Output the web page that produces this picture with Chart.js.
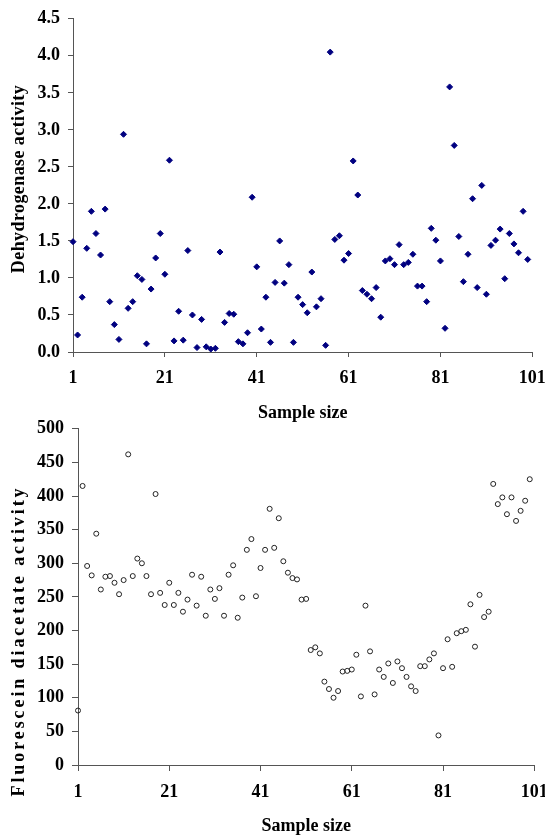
<!DOCTYPE html>
<html>
<head>
<meta charset="utf-8">
<style>
  html, body { margin: 0; padding: 0; background: #fff; width: 545px; height: 835px; overflow: hidden; }
  canvas { position: absolute; left: 0; }
  #dhaChart { top: 0; }
  #fdaChart { top: 410px; }
</style>
</head>
<body>
<canvas id="dhaChart" width="560" height="425"></canvas>
<canvas id="fdaChart" width="560" height="425"></canvas>

<script src="https://cdn.jsdelivr.net/npm/chart.js"></script>
<script>
// sample numbers 1..100
var samples = [];
for (var i = 1; i <= 100; i++) samples.push(i);

var xTicks = [1, 21, 41, 61, 81, 101];
var dhaTicks = [0, 0.5, 1, 1.5, 2, 2.5, 3, 3.5, 4, 4.5];
var fdaTicks = [0, 50, 100, 150, 200, 250, 300, 350, 400, 450, 500];

var dehydrogenase = [
  1.49, 0.23, 0.74, 1.40, 1.90, 1.60, 1.31, 1.93, 0.68, 0.37,
  0.17, 2.94, 0.59, 0.68, 1.03, 0.98, 0.11, 0.85, 1.27, 1.60,
  1.05, 2.59, 0.15, 0.55, 0.16, 1.37, 0.50, 0.06, 0.44, 0.07,
  0.04, 0.05, 1.35, 0.40, 0.52, 0.51, 0.14, 0.11, 0.26, 2.09,
  1.15, 0.31, 0.74, 0.13, 0.94, 1.50, 0.93, 1.18, 0.13, 0.74,
  0.64, 0.53, 1.08, 0.61, 0.72, 0.09, 4.05, 1.52, 1.57, 1.24,
  1.33, 2.58, 2.12, 0.83, 0.78, 0.72, 0.87, 0.47, 1.23, 1.26,
  1.18, 1.45, 1.18, 1.21, 1.32, 0.89, 0.89, 0.68, 1.67, 1.51,
  1.23, 0.32, 3.58, 2.79, 1.56, 0.95, 1.32, 2.07, 0.87, 2.25,
  0.78, 1.44, 1.51, 1.66, 0.99, 1.60, 1.46, 1.34, 1.90, 1.25
];

var fluorescein = [
  81, 415, 296, 282, 344, 261, 280, 281, 271, 254,
  275, 462, 281, 307, 300, 281, 254, 403, 256, 238,
  271, 238, 256, 228, 246, 283, 237, 280, 222, 261,
  247, 263, 222, 283, 297, 219, 249, 320, 336, 251,
  293, 320, 381, 323, 367, 303, 286, 278, 276, 246,
  247, 171, 175, 166, 124, 113, 100, 110, 139, 140,
  142, 164, 102, 237, 169, 105, 142, 131, 151, 122,
  154, 144, 131, 117, 110, 147, 147, 157, 166, 44,
  144, 187, 146, 196, 199, 201, 239, 176, 253, 220,
  228, 418, 388, 398, 373, 398, 363, 378, 393, 425
];

var axisColor = '#555';
var fontFamily = '"Liberation Serif", "Times New Roman", serif';
Chart.defaults.font.family = fontFamily;
Chart.defaults.color = '#000';

// rotated y title, stretched to the length seen in the picture
var yTitlePlugin = {
  id: 'yTitle',
  afterDraw: function(chart, args, opts) {
    var ctx = chart.ctx;
    ctx.save();
    ctx.translate(opts.x, opts.y);
    ctx.rotate(-Math.PI / 2);
    ctx.font = 'bold 18px ' + fontFamily;
    ctx.fillStyle = '#000';
    ctx.textAlign = 'center';
    ctx.textBaseline = 'middle';
    var w = ctx.measureText(opts.text).width;
    if ('letterSpacing' in ctx && opts.length > w) {
      ctx.letterSpacing = ((opts.length - w) / (opts.text.length - 1)).toFixed(2) + 'px';
    }
    ctx.fillText(opts.text, 0, 0);
    ctx.restore();
  }
};

function points(values) {
  return values.map(function(v, i) { return {x: samples[i], y: v}; });
}

function makeChart(id, cfg) {
  return new Chart(document.getElementById(id), {
    type: 'scatter',
    data: {
      datasets: [{
        data: points(cfg.values),
        pointStyle: cfg.pointStyle,
        pointRadius: cfg.radius,
        pointHoverRadius: cfg.radius,
        pointBorderWidth: 1,
        pointBackgroundColor: cfg.fill,
        pointBorderColor: cfg.stroke,
        clip: false
      }]
    },
    options: {
      responsive: false,
      animation: false,
      layout: { padding: { top: cfg.padTop, right: cfg.padRight, left: 0, bottom: 0 } },
      plugins: {
        legend: { display: false },
        tooltip: { enabled: false },
        yTitle: cfg.yTitle
      },
      scales: {
        x: {
          type: 'linear',
          min: 1,
          max: 101,
          afterBuildTicks: function(s) { s.ticks = xTicks.map(function(v) { return {value: v}; }); },
          afterFit: function(s) { s.height = cfg.xHeight; },
          grid: { display: true, drawOnChartArea: false, drawTicks: true, tickLength: cfg.tick, color: axisColor },
          border: { display: true, color: axisColor, width: 1 },
          ticks: { padding: 11, color: '#000', maxRotation: 0, autoSkip: false, font: { size: 18, weight: 'bold' } },
          title: {
            display: true, text: 'Sample size', color: '#000',
            font: { size: 18, weight: 'bold', lineHeight: 1 },
            padding: { top: 0, bottom: cfg.titlePad }
          }
        },
        y: {
          min: 0,
          max: cfg.yMax,
          afterBuildTicks: function(s) { s.ticks = cfg.yTicks.map(function(v) { return {value: v}; }); },
          afterFit: function(s) { s.width = cfg.yWidth; },
          grid: { display: true, drawOnChartArea: false, drawTicks: true, tickLength: cfg.tick, color: axisColor },
          border: { display: true, color: axisColor, width: 1 },
          ticks: { padding: 8, color: '#000', font: { size: 18, weight: 'bold' }, callback: cfg.fmt }
        }
      }
    },
    plugins: [yTitlePlugin]
  });
}

makeChart('dhaChart', {
  values: dehydrogenase,
  pointStyle: 'rectRot',
  radius: 3,
  fill: '#000080',
  stroke: '#000080',
  yMax: 4.5,
  yTicks: dhaTicks,
  fmt: function(v) { return v.toFixed(1); },
  padTop: 17,
  padRight: 27.7,
  xHeight: 73,
  yWidth: 73,
  tick: 5,
  titlePad: 3,
  yTitle: { text: 'Dehydrogenase activity', x: 19, y: 179, length: 188 }
});

makeChart('fdaChart', {
  values: fluorescein,
  pointStyle: 'circle',
  radius: 2.5,
  fill: 'rgba(0,0,0,0)',
  stroke: '#222',
  yMax: 500,
  yTicks: fdaTicks,
  fmt: function(v) { return v; },
  padTop: 17.3,
  padRight: 25.7,
  xHeight: 70,
  yWidth: 78,
  tick: 6,
  titlePad: 0,
  yTitle: { text: 'Fluorescein diacetate activity', x: 19, y: 231, length: 308 }
});
</script>
</body>
</html>
